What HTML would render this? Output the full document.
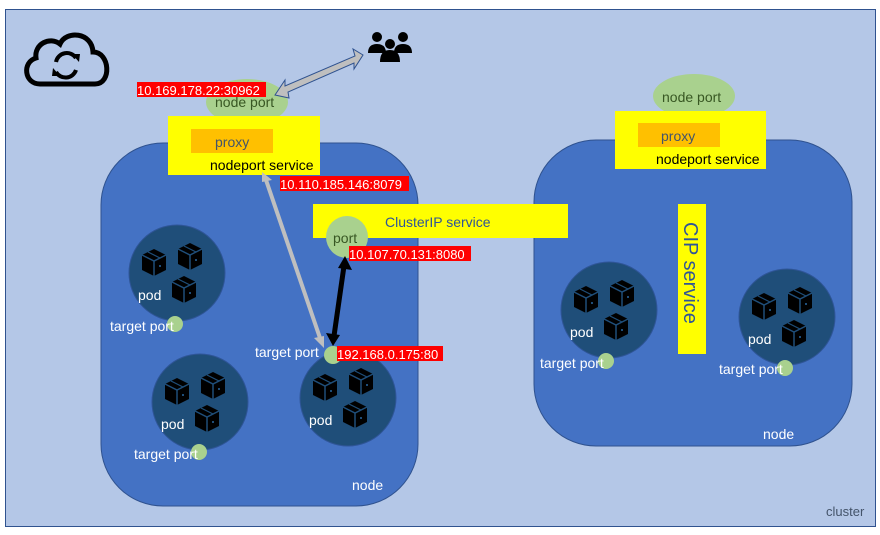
<!DOCTYPE html>
<html><head><meta charset="utf-8"><style>
html,body{margin:0;padding:0;background:#fff;}
svg{display:block;font-family:"Liberation Sans","Noto Sans CJK SC",sans-serif;}
</style></head><body>
<svg width="880" height="535" viewBox="0 0 880 535" xmlns="http://www.w3.org/2000/svg">
<defs>
<g id="cube">
<polygon points="0,-13 12,-7 12,8 0,14 -12,8 -12,-7" fill="#000"/>
<polyline points="-12,-7 0,-1 12,-7" fill="none" stroke="#1f4e79" stroke-width="1.5"/>
<line x1="0" y1="-1" x2="0" y2="14" stroke="#1f4e79" stroke-width="1.5"/>
<line x1="-6" y1="-10" x2="6" y2="-4" stroke="#1f4e79" stroke-width="1.2"/>
<rect x="5" y="3" width="2" height="2" fill="#1f4e79"/>
</g>
<g id="pod">
<circle cx="0" cy="0" r="48" fill="#1f4e79" stroke="#2f5597" stroke-width="1"/>
<use href="#cube" x="-23" y="-11"/>
<use href="#cube" x="13" y="-17"/>
<use href="#cube" x="7" y="16"/>
<text x="-39" y="27" fill="#fff" font-size="14">pod</text>
</g>
</defs>
<rect x="0" y="0" width="880" height="535" fill="#fff"/>
<rect x="5.5" y="9.5" width="870" height="517" fill="#b4c7e7" stroke="#2f528f" stroke-width="1"/>
<text x="826" y="516" fill="#44546a" font-size="13">cluster</text>

<!-- cloud -->
<path d="M40,84 C24,84 22,62 36,58 C34,44 50,36 60,44 C66,30 92,32 93,52 C110,52 112,84 95,84 Z" fill="none" stroke="#000" stroke-width="5"/>
<path d="M56,62 A11,11 0 0 1 76,58 M76,70 A11,11 0 0 1 56,72" fill="none" stroke="#000" stroke-width="4"/>
<polygon points="72,54 80,54 79,62" fill="#000"/>
<polygon points="60,76 52,76 53,68" fill="#000"/>

<!-- users -->
<g fill="#000">
<circle cx="377" cy="37" r="5"/><circle cx="403" cy="37" r="5"/><circle cx="390" cy="44" r="5"/>
<path d="M368,53 Q368,44 377,44 Q386,44 386,53 Z"/>
<path d="M394,53 Q394,44 403,44 Q412,44 412,53 Z"/>
<path d="M380,62 Q380,50 390,50 Q400,50 400,62 Z"/>
</g>

<!-- nodes -->
<rect x="101" y="143" width="317" height="363" rx="62" fill="#4472c4" stroke="#2f528f"/>
<rect x="534" y="140" width="318" height="306" rx="62" fill="#4472c4" stroke="#2f528f"/>
<text x="352" y="490" fill="#fff" font-size="14">node</text>
<text x="763" y="439" fill="#fff" font-size="14">node</text>

<!-- left nodeport -->
<ellipse cx="247" cy="102" rx="41" ry="23" fill="#a9d18e"/>
<text x="215" y="107" fill="#385723" font-size="14">node port</text>
<rect x="168" y="116" width="152" height="59" fill="#ffff00"/>
<rect x="191" y="129" width="82" height="24" fill="#ffc000"/>
<text x="215" y="147" fill="#44546a" font-size="14">proxy</text>
<text x="210" y="170" fill="#000" font-size="14">nodeport service</text>

<!-- right nodeport -->
<ellipse cx="694" cy="96" rx="41" ry="22" fill="#a9d18e"/>
<text x="662" y="102" fill="#385723" font-size="14">node port</text>
<rect x="615" y="111" width="151" height="58" fill="#ffff00"/>
<rect x="638" y="123" width="82" height="24" fill="#ffc000"/>
<text x="661" y="141" fill="#44546a" font-size="14">proxy</text>
<text x="656" y="164" fill="#000" font-size="14">nodeport service</text>

<!-- ClusterIP -->
<rect x="313" y="204" width="255" height="34" fill="#ffff00"/>
<text x="385" y="227" fill="#2f5597" font-size="14">ClusterIP service</text>
<rect x="678" y="204" width="28" height="150" fill="#ffff00"/>
<text transform="translate(684,222) rotate(90)" fill="#2f5597" font-size="20">CIP service</text>

<!-- pods -->
<use href="#pod" x="177" y="273"/>
<use href="#pod" x="200" y="402"/>
<use href="#pod" x="348" y="398"/>
<use href="#pod" x="609" y="310"/>
<use href="#pod" x="787" y="317"/>

<g fill="#a9d18e">
<circle cx="175" cy="324" r="8"/><circle cx="199" cy="452" r="8"/>
<circle cx="606" cy="361" r="8"/><circle cx="785" cy="368" r="8"/>
<circle cx="333" cy="355" r="9"/>
</g>
<g fill="#fff" font-size="14">
<text x="110" y="331">target port</text>
<text x="134" y="459">target port</text>
<text x="540" y="368">target port</text>
<text x="719" y="374">target port</text>
<text x="255" y="357">target port</text>
</g>

<!-- port -->
<circle cx="347" cy="237" r="21" fill="#a9d18e"/>
<text x="333" y="243" fill="#385723" font-size="14">port</text>

<!-- arrows -->
<polygon points="275,95 285,80 285,86 355,56 353,49 363,55 354,69 354,63 288,92 289,98" fill="#bfbfbf" stroke="#2f528f" stroke-width="1"/>
<line x1="266" y1="180" x2="320" y2="338" stroke="#bfbfbf" stroke-width="4"/>
<polygon points="262,172 272,180 262,182" fill="#bfbfbf"/>
<polygon points="324,348 314,338 324,336" fill="#bfbfbf"/>
<line x1="344" y1="266" x2="334" y2="336" stroke="#000" stroke-width="5"/>
<polygon points="345,256 352,270 338,268" fill="#000"/>
<polygon points="333,346 326,333 340,335" fill="#000"/>

<!-- red labels -->
<g font-size="13" fill="#fff">
<rect x="137" y="82" width="129" height="15" fill="#ff0000"/><text x="137" y="95">10.169.178.22:30962</text>
<rect x="280" y="176" width="129" height="15" fill="#ff0000"/><text x="280" y="189">10.110.185.146:8079</text>
<rect x="349" y="246" width="122" height="15" fill="#ff0000"/><text x="349" y="259">10.107.70.131:8080</text>
<rect x="337" y="346" width="106" height="15" fill="#ff0000"/><text x="337" y="359">192.168.0.175:80</text>
</g>
</svg>
</body></html>
